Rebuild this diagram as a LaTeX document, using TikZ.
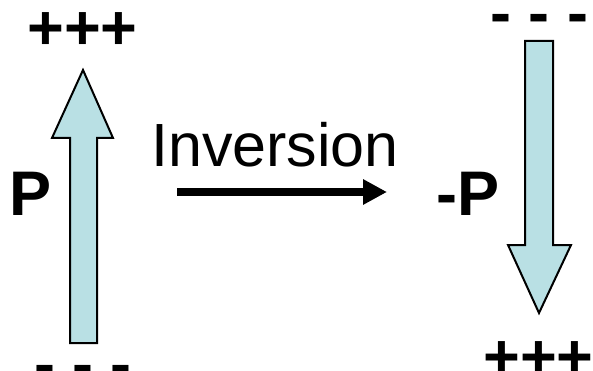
\documentclass[tikz,border=0pt]{standalone}
\usepackage{fontspec}
\setmainfont{Liberation Sans}
\usetikzlibrary{arrows.meta}
\definecolor{pfill}{HTML}{B9E0E4}
\begin{document}
\begin{tikzpicture}[x=1pt,y=-1pt,
  lbl/.style={font=\fontsize{63}{63}\selectfont\bfseries, inner sep=0pt, anchor=base},
  inv/.style={font=\fontsize{61}{61}\selectfont, inner sep=0pt, anchor=base},
  parrow/.style={draw=black, line width=2pt, fill=pfill, line join=miter},
  conn/.style={line width=8pt, -{Triangle[length=24pt,width=24pt]}}]
\useasboundingbox (0,0) rectangle (593,371);
% polarization arrows
\draw[parrow] (70,343) -- (70,138) -- (52,138) -- (83,70) -- (113,138) -- (97,138) -- (97,343) -- cycle;
\draw[parrow] (525,41) -- (553,41) -- (553,245) -- (571,245) -- (539,313) -- (508,245) -- (525,245) -- cycle;
% labels
\node[lbl] (ptopL) at (82.5,50) {+++};
\node[lbl] (mbotL) at (83,385) {- - -};
\node[lbl] (P) at (30.5,215) {P};
\node[lbl] (mP) at (468,215) {-P};
\node[lbl] (mtopR) at (539.5,35) {- - -};
\node[lbl] (pbotR) at (538.5,378) {+++};
\node[inv] (inv) at (275,167) {Inversion};
% inversion connector
\coordinate (a1) at (177,192);
\coordinate (a2) at (387,192);
\draw[conn] (a1) -- (a2);
\end{tikzpicture}
\end{document}
